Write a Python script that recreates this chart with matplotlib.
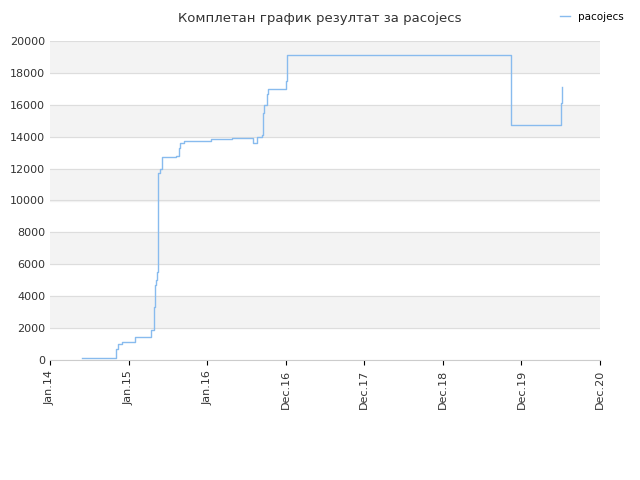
import matplotlib
matplotlib.use("Agg")
import matplotlib.pyplot as plt

years = [0.41,0.83,0.84,0.87,0.92,1.08,1.28,1.29,1.31,1.32,1.34,1.35,1.36,1.37,1.38,1.40,1.43,1.60,1.64,1.66,1.70,2.03,2.05,2.30,2.31,2.54,2.59,2.64,2.70,2.71,2.72,2.76,2.78,3.0,3.01,3.02,5.87,6.5,6.51]
scores = [100,100,700,1000,1100,1450,1450,1900,1900,3300,4700,5000,5500,6300,11700,12000,12700,12800,13300,13600,13700,13700,13850,13850,13900,13900,13600,13950,14100,15500,16000,16700,17000,17500,18300,19100,14750,16100,17100]
xticks = [0,1,2,3,4,5,6]
xlabels = ["Jan.14","Jan.15","Jan.16","Dec.16","Dec.17","Dec.18","Dec.19","Dec.20"]

fig = plt.figure(figsize=(6.4,4.8), dpi=100)
ax = fig.add_axes([50/640, 1-360/480, 550/640, 319/480])
for lo in range(2000, 20000, 4000):
    ax.axhspan(lo, lo+2000, color="#f3f3f3", zorder=0)
ax.yaxis.grid(True, color="#dddddd", lw=0.8)
ax.set_axisbelow(True)
ax.step(years, scores, where="post", color="#88bbee", lw=1, label="pacojecs")
ax.set_xlim(0, 7)
ax.set_ylim(0, 20000)
ax.set_xticks(range(8))
ax.set_xticklabels(xlabels, rotation=90, fontsize=8, color="#333333")
ax.set_yticks(range(0, 20001, 2000))
ax.tick_params(axis="y", labelsize=8, colors="#333333", length=0)
for s in ["top","right","left"]:
    ax.spines[s].set_visible(False)
ax.spines["bottom"].set_color("#cccccc")
fig.text(0.5, 0.975, "Комплетан график резултат за pacojecs", ha="center", va="top", fontsize=9.5, color="#333333")
fig.legend(loc="upper right", bbox_to_anchor=(0.99, 0.995), frameon=False, fontsize=7.5, handlelength=1)
fig.savefig("out.png", dpi=100)
